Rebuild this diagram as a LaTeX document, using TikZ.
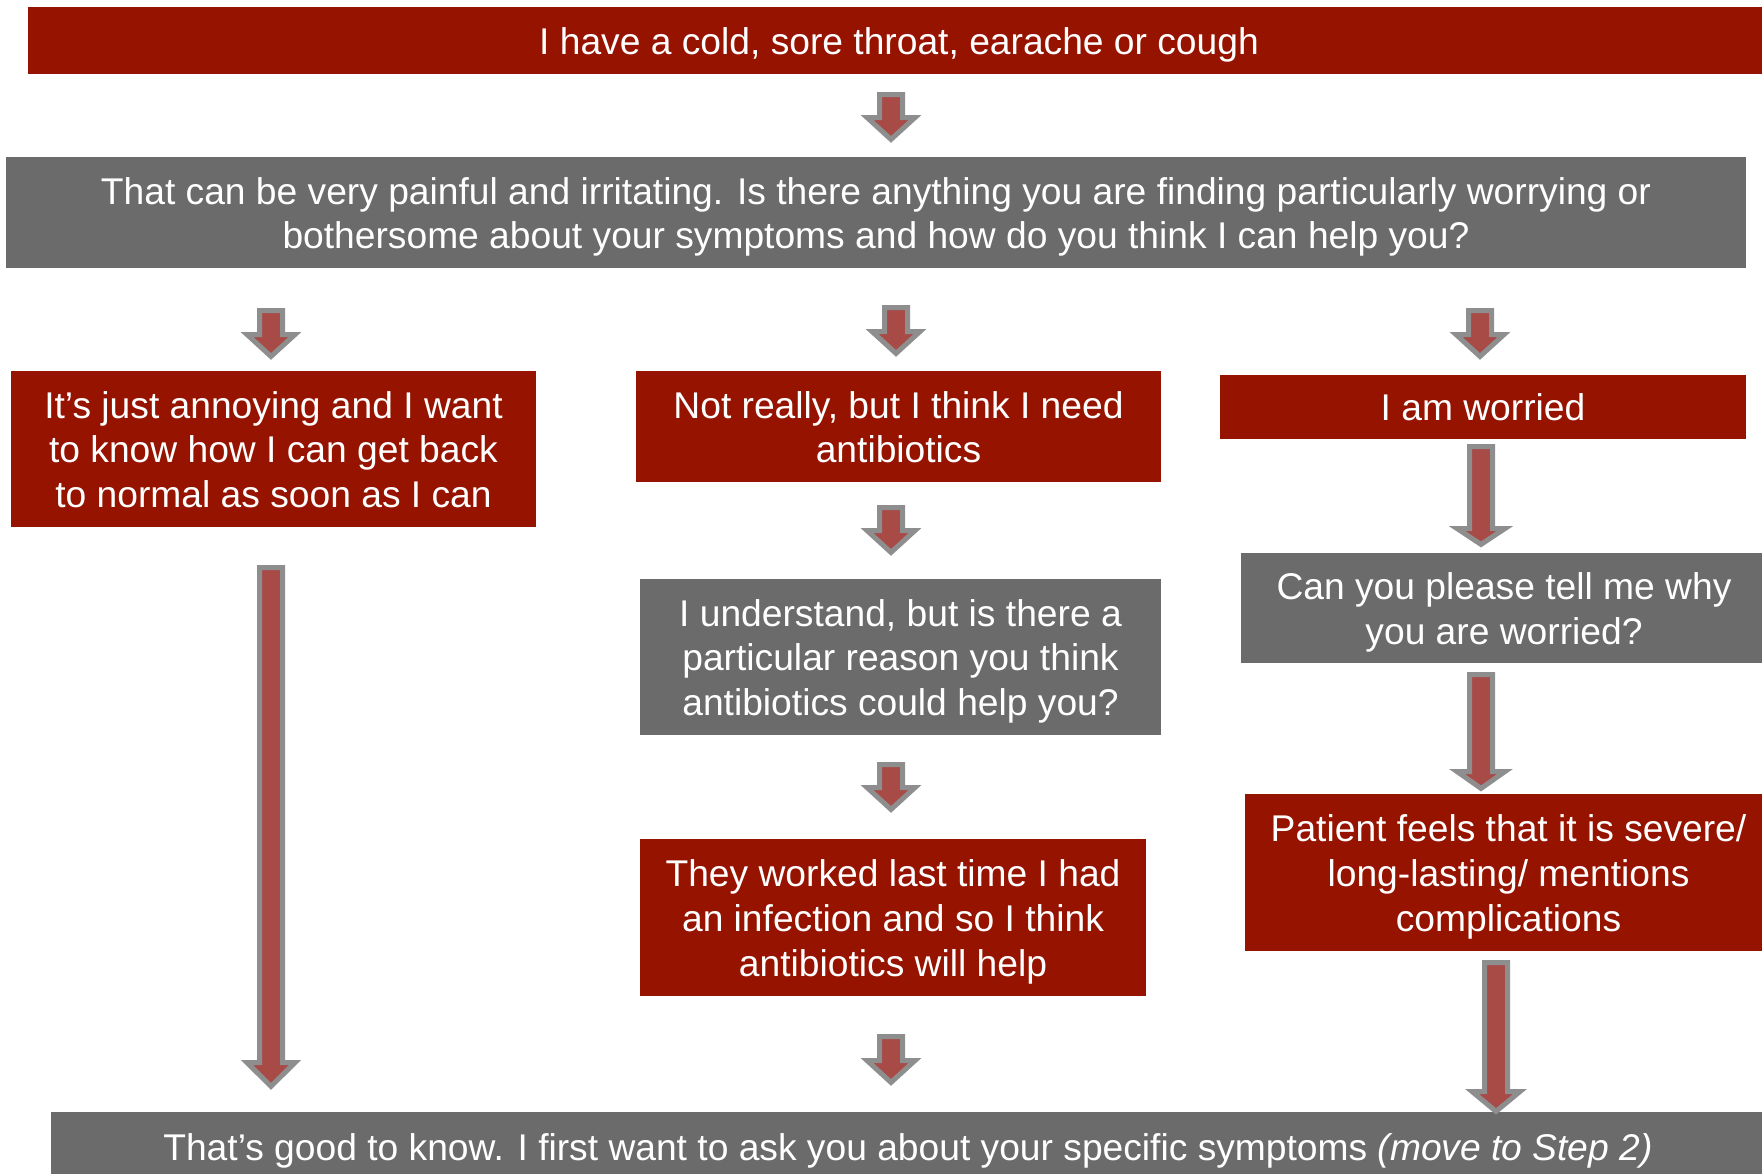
\documentclass[tikz,border=0pt]{standalone}
\usepackage{fontspec}
\setmainfont{Liberation Sans}
\usetikzlibrary{calc}
\definecolor{boxred}{HTML}{961300}
\definecolor{boxgrey}{HTML}{6B6B6B}
\definecolor{arrowred}{HTML}{A84A46}
\definecolor{arrowgrey}{HTML}{8E8E8E}
% strut for first and last line of box text
\newcommand\bx{\rule[-0.212em]{0pt}{\dimexpr1.117em+1pt\relax}}
\tikzset{
  redbox/.style={fill=boxred, text=white, align=center, inner sep=0pt,
    font=\fontsize{18.6pt}{22.3pt}\selectfont, execute at end node=\bx},
  greybox/.style={redbox, fill=boxgrey},
  blockarrow/.style={draw=arrowgrey, fill=arrowred, line width=2.5pt, line join=miter,
    to path={let \p1=(\tikztostart), \p2=(\tikztotarget) in
      (\x1-5.75pt,\y1-1.25pt) -- (\x1-5.75pt,\y2+#1-1.25pt) -- (\x1-12pt,\y2+#1-1.25pt)
      -- (\x1,\y2+1.8pt) -- (\x1+12pt,\y2+#1-1.25pt) -- (\x1+5.75pt,\y2+#1-1.25pt)
      -- (\x1+5.75pt,\y1-1.25pt) -- cycle}},
  blockarrow/.default=14pt
}

\begin{document}
\begin{tikzpicture}[x=0.5pt,y=-0.5pt]
  \useasboundingbox (0,0) rectangle (1762,1173);

  \node[redbox, minimum width=871pt, minimum height=33.5pt] (cold) at (899,40.5)
    {\bx I have a cold, sore throat, earache or cough};
  \node[greybox, minimum width=870pt, minimum height=55.5pt] (ask) at (876,212.5)
    {\bx That can be very painful and irritating. Is there anything you are finding particularly worrying or\\
     bothersome about your symptoms and how do you think I can help you?};

  \node[redbox, minimum width=262.5pt, minimum height=78pt] (annoy) at (273.5,449)
    {\bx It’s just annoying and I want\\to know how I can get back\\to normal as soon as I can};
  \node[redbox, minimum width=262.5pt, minimum height=55.5pt] (needab) at (898.5,426.5)
    {\bx Not really, but I think I need\\antibiotics};
  \node[redbox, minimum width=263pt, minimum height=32pt] (worried) at (1483,407)
    {\bx I am worried};

  \node[greybox, minimum width=260.5pt, minimum height=78pt] (reason) at (900.5,657)
    {\bx I understand, but is there a\\particular reason you think\\antibiotics could help you?};
  \node[redbox, minimum width=253pt, minimum height=78.5pt] (worked) at (893,917.5)
    {\bx They worked last time I had\\an infection and so I think\\antibiotics will help};

  \node[greybox, minimum width=263pt, minimum height=55pt] (why) at (1504,608)
    {\bx Can you please tell me why\\you are worried?};
  \node[redbox, minimum width=263.5pt, minimum height=78.5pt] (severe) at (1508.5,872.5)
    {\bx Patient feels that it is severe/\\long-lasting/ mentions\\complications};

  \node[greybox, minimum width=857pt, minimum height=35pt] (good) at (908,1147)
    {\bx That’s good to know. I first want to ask you about your specific symptoms \textit{(move to Step 2)}};

  % block arrows: name/x/top/tip/head
  \foreach \nm/\cx/\ya/\yb/\hd in {a1/891/92/143/14pt, a2/271/308/360/14pt, a3/896/305/357/14pt,
      a4/1480/308/360/14pt, a5/271/565/1090/15pt, a6/891/505/556/14pt, a7/891/762/813/14pt,
      a8/891/1034/1086/14pt, a9/1481/444/548/11pt, a10/1481/672/792/11.5pt, a11/1496/960/1115/13pt}{
    \coordinate (\nm s) at (\cx,\ya);
    \coordinate (\nm e) at (\cx,\yb);
    \draw[blockarrow=\hd] (\nm s) to (\nm e);
  }
\end{tikzpicture}
\end{document}
